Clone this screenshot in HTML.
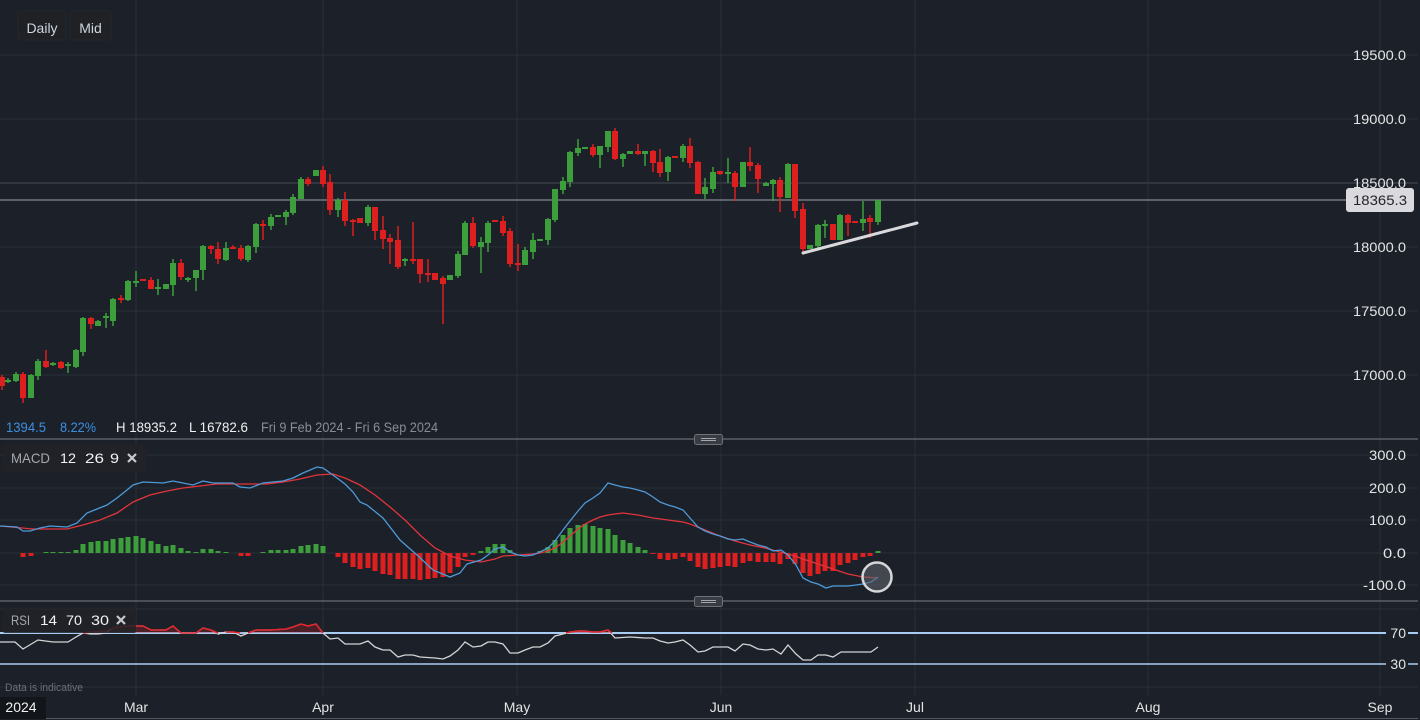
<!DOCTYPE html>
<html><head><meta charset="utf-8">
<style>
html,body{margin:0;padding:0;background:#1b2029;}
svg{display:block;font-family:"Liberation Sans",sans-serif;}
.g{fill:#3c9f3c}.r{fill:#dd1f1f}
.gl{stroke:#2a2f38;stroke-width:1}
.ax{fill:#e4e4e4;font-size:14px}
</style></head>
<body>
<svg width="1420" height="720" viewBox="0 0 1420 720" xmlns="http://www.w3.org/2000/svg">
<rect width="1420" height="720" fill="#1b2029"/>
<!-- vertical grid -->
<g class="gl">
<line x1="136" y1="0" x2="136" y2="695"/><line x1="323" y1="0" x2="323" y2="695"/><line x1="517" y1="0" x2="517" y2="695"/><line x1="721" y1="0" x2="721" y2="695"/><line x1="915" y1="0" x2="915" y2="695"/><line x1="1148" y1="0" x2="1148" y2="695"/><line x1="1380" y1="0" x2="1380" y2="695"/>
<!-- price grid -->
<line x1="0" y1="55" x2="1418" y2="55"/><line x1="0" y1="119" x2="1418" y2="119"/><line x1="0" y1="247" x2="1418" y2="247"/><line x1="0" y1="311" x2="1418" y2="311"/><line x1="0" y1="375" x2="1418" y2="375"/>
<!-- macd grid -->
<line x1="0" y1="455" x2="1418" y2="455"/><line x1="0" y1="488" x2="1418" y2="488"/><line x1="0" y1="520" x2="1418" y2="520"/><line x1="0" y1="553" x2="1418" y2="553"/><line x1="0" y1="585" x2="1418" y2="585"/>
<line x1="0" y1="609" x2="1418" y2="609"/><line x1="0" y1="687" x2="1418" y2="687"/>
</g>
<line x1="0" y1="183" x2="1418" y2="183" stroke="#30353e" stroke-width="2"/>
<line x1="0" y1="200" x2="1346" y2="200" stroke="#9ea1a7" stroke-width="1"/>

<!-- candles -->
<g>
<rect class="r" x="1.25" y="375" width="1.5" height="15"/><rect class="r" x="-1" y="377" width="6" height="9"/>
<rect class="g" x="7.25" y="378" width="1.5" height="5"/><rect class="g" x="5" y="380" width="6" height="2"/>
<rect class="g" x="15.25" y="372" width="1.5" height="10"/><rect class="g" x="13" y="374" width="6" height="7"/>
<rect class="r" x="22.25" y="372" width="1.5" height="31"/><rect class="r" x="20" y="374" width="6" height="24"/>
<rect class="g" x="30.25" y="374" width="1.5" height="24"/><rect class="g" x="28" y="375" width="6" height="23"/>
<rect class="g" x="37.25" y="359" width="1.5" height="21"/><rect class="g" x="35" y="361" width="6" height="15"/>
<rect class="r" x="45.25" y="350" width="1.5" height="18"/><rect class="r" x="43" y="361" width="6" height="6"/>
<rect class="g" x="52.25" y="362" width="1.5" height="4"/><rect class="g" x="50" y="363" width="6" height="2"/>
<rect class="r" x="60.25" y="361" width="1.5" height="8"/><rect class="r" x="58" y="362" width="6" height="6"/>
<rect class="g" x="67.25" y="362" width="1.5" height="11"/><rect class="g" x="65" y="364" width="6" height="2"/>
<rect class="g" x="75.25" y="349" width="1.5" height="19"/><rect class="g" x="73" y="350" width="6" height="17"/>
<rect class="g" x="82.25" y="317" width="1.5" height="39"/><rect class="g" x="80" y="318" width="6" height="34"/>
<rect class="r" x="90.25" y="317" width="1.5" height="12"/><rect class="r" x="88" y="318" width="6" height="6"/>
<rect class="g" x="97.25" y="320" width="1.5" height="6"/><rect class="g" x="95" y="321" width="6" height="5"/>
<rect class="g" x="105.25" y="313" width="1.5" height="15"/><rect class="g" x="103" y="316" width="6" height="2"/>
<rect class="g" x="112.25" y="298" width="1.5" height="28"/><rect class="g" x="110" y="299" width="6" height="22"/>
<rect class="r" x="120.25" y="295" width="1.5" height="8"/><rect class="r" x="118" y="298" width="6" height="2"/>
<rect class="g" x="127.25" y="280" width="1.5" height="21"/><rect class="g" x="125" y="281" width="6" height="19"/>
<rect class="g" x="135.25" y="271" width="1.5" height="16"/><rect class="g" x="133" y="281" width="6" height="2"/>
<rect class="r" x="142.25" y="279" width="1.5" height="2"/><rect class="r" x="140" y="279" width="6" height="2"/>
<rect class="r" x="150.25" y="277" width="1.5" height="12"/><rect class="r" x="148" y="280" width="6" height="9"/>
<rect class="g" x="157.25" y="279" width="1.5" height="16"/><rect class="g" x="155" y="287" width="6" height="2"/>
<rect class="g" x="165.25" y="284" width="1.5" height="5"/><rect class="g" x="163" y="284" width="6" height="5"/>
<rect class="g" x="172.25" y="259" width="1.5" height="37"/><rect class="g" x="170" y="263" width="6" height="22"/>
<rect class="r" x="180.25" y="259" width="1.5" height="21"/><rect class="r" x="178" y="263" width="6" height="14"/>
<rect class="g" x="187.25" y="277" width="1.5" height="5"/><rect class="g" x="185" y="278" width="6" height="2"/>
<rect class="g" x="195.25" y="270" width="1.5" height="21"/><rect class="g" x="193" y="270" width="6" height="8"/>
<rect class="g" x="202.25" y="245" width="1.5" height="35"/><rect class="g" x="200" y="246" width="6" height="24"/>
<rect class="r" x="210.25" y="245" width="1.5" height="9"/><rect class="r" x="208" y="246" width="6" height="3"/>
<rect class="r" x="217.25" y="242" width="1.5" height="22"/><rect class="r" x="215" y="249" width="6" height="10"/>
<rect class="g" x="225.25" y="242" width="1.5" height="19"/><rect class="g" x="223" y="248" width="6" height="12"/>
<rect class="r" x="232.25" y="245" width="1.5" height="4"/><rect class="r" x="230" y="247" width="6" height="2"/>
<rect class="r" x="240.25" y="245" width="1.5" height="16"/><rect class="r" x="238" y="248" width="6" height="11"/>
<rect class="g" x="247.25" y="245" width="1.5" height="17"/><rect class="g" x="245" y="246" width="6" height="14"/>
<rect class="g" x="255.25" y="223" width="1.5" height="30"/><rect class="g" x="253" y="224" width="6" height="23"/>
<rect class="r" x="262.25" y="220" width="1.5" height="20"/><rect class="r" x="260" y="224" width="6" height="2"/>
<rect class="g" x="270.25" y="214" width="1.5" height="16"/><rect class="g" x="268" y="217" width="6" height="9"/>
<rect class="g" x="277.25" y="215" width="1.5" height="2"/><rect class="g" x="275" y="215" width="6" height="2"/>
<rect class="g" x="285.25" y="210" width="1.5" height="15"/><rect class="g" x="283" y="212" width="6" height="5"/>
<rect class="g" x="292.25" y="194" width="1.5" height="21"/><rect class="g" x="290" y="197" width="6" height="16"/>
<rect class="g" x="300.25" y="177" width="1.5" height="22"/><rect class="g" x="298" y="179" width="6" height="20"/>
<rect class="r" x="307.25" y="177" width="1.5" height="9"/><rect class="r" x="305" y="179" width="6" height="5"/>
<rect class="g" x="315.25" y="170" width="1.5" height="6"/><rect class="g" x="313" y="170" width="6" height="6"/>
<rect class="r" x="322.25" y="166" width="1.5" height="21"/><rect class="r" x="320" y="170" width="6" height="14"/>
<rect class="r" x="329.25" y="174" width="1.5" height="41"/><rect class="r" x="327" y="182" width="6" height="28"/>
<rect class="g" x="337.25" y="198" width="1.5" height="19"/><rect class="g" x="335" y="200" width="6" height="10"/>
<rect class="r" x="344.25" y="192" width="1.5" height="34"/><rect class="r" x="342" y="200" width="6" height="21"/>
<rect class="r" x="352.25" y="219" width="1.5" height="17"/><rect class="r" x="350" y="220" width="6" height="2"/>
<rect class="r" x="359.25" y="218" width="1.5" height="5"/><rect class="r" x="357" y="218" width="6" height="5"/>
<rect class="g" x="367.25" y="205" width="1.5" height="21"/><rect class="g" x="365" y="207" width="6" height="16"/>
<rect class="r" x="374.25" y="207" width="1.5" height="33"/><rect class="r" x="372" y="207" width="6" height="24"/>
<rect class="r" x="382.25" y="216" width="1.5" height="33"/><rect class="r" x="380" y="230" width="6" height="9"/>
<rect class="r" x="389.25" y="234" width="1.5" height="30"/><rect class="r" x="387" y="238" width="6" height="4"/>
<rect class="r" x="397.25" y="226" width="1.5" height="43"/><rect class="r" x="395" y="240" width="6" height="27"/>
<rect class="g" x="404.25" y="258" width="1.5" height="8"/><rect class="g" x="402" y="259" width="6" height="2"/>
<rect class="r" x="412.25" y="222" width="1.5" height="42"/><rect class="r" x="410" y="259" width="6" height="2"/>
<rect class="r" x="419.25" y="259" width="1.5" height="24"/><rect class="r" x="417" y="259" width="6" height="15"/>
<rect class="r" x="427.25" y="259" width="1.5" height="23"/><rect class="r" x="425" y="273" width="6" height="2"/>
<rect class="r" x="434.25" y="273" width="1.5" height="7"/><rect class="r" x="432" y="273" width="6" height="7"/>
<rect class="r" x="442.25" y="276" width="1.5" height="48"/><rect class="r" x="440" y="278" width="6" height="6"/>
<rect class="g" x="449.25" y="275" width="1.5" height="5"/><rect class="g" x="447" y="275" width="6" height="5"/>
<rect class="g" x="457.25" y="251" width="1.5" height="27"/><rect class="g" x="455" y="254" width="6" height="22"/>
<rect class="g" x="464.25" y="221" width="1.5" height="34"/><rect class="g" x="462" y="223" width="6" height="32"/>
<rect class="r" x="472.25" y="217" width="1.5" height="31"/><rect class="r" x="470" y="223" width="6" height="23"/>
<rect class="g" x="480.25" y="237" width="1.5" height="36"/><rect class="g" x="478" y="242" width="6" height="5"/>
<rect class="g" x="487.25" y="221" width="1.5" height="31"/><rect class="g" x="485" y="223" width="6" height="20"/>
<rect class="r" x="494.25" y="220" width="1.5" height="2"/><rect class="r" x="492" y="220" width="6" height="2"/>
<rect class="r" x="502.25" y="216" width="1.5" height="20"/><rect class="r" x="500" y="221" width="6" height="12"/>
<rect class="r" x="509.25" y="228" width="1.5" height="39"/><rect class="r" x="507" y="231" width="6" height="33"/>
<rect class="r" x="517.25" y="244" width="1.5" height="27"/><rect class="r" x="515" y="263" width="6" height="2"/>
<rect class="g" x="524.25" y="247" width="1.5" height="18"/><rect class="g" x="522" y="250" width="6" height="15"/>
<rect class="g" x="532.25" y="233" width="1.5" height="26"/><rect class="g" x="530" y="240" width="6" height="12"/>
<rect class="g" x="539.25" y="239" width="1.5" height="2"/><rect class="g" x="537" y="239" width="6" height="2"/>
<rect class="g" x="547.25" y="218" width="1.5" height="27"/><rect class="g" x="545" y="219" width="6" height="21"/>
<rect class="g" x="554.25" y="189" width="1.5" height="33"/><rect class="g" x="552" y="189" width="6" height="31"/>
<rect class="g" x="562.25" y="177" width="1.5" height="17"/><rect class="g" x="560" y="181" width="6" height="9"/>
<rect class="g" x="569.25" y="151" width="1.5" height="36"/><rect class="g" x="567" y="152" width="6" height="30"/>
<rect class="g" x="577.25" y="139" width="1.5" height="17"/><rect class="g" x="575" y="148" width="6" height="5"/>
<rect class="g" x="584.25" y="147" width="1.5" height="2"/><rect class="g" x="582" y="147" width="6" height="2"/>
<rect class="r" x="592.25" y="144" width="1.5" height="13"/><rect class="r" x="590" y="147" width="6" height="8"/>
<rect class="g" x="599.25" y="146" width="1.5" height="22"/><rect class="g" x="597" y="146" width="6" height="9"/>
<rect class="g" x="607.25" y="131" width="1.5" height="21"/><rect class="g" x="605" y="131" width="6" height="16"/>
<rect class="r" x="614.25" y="128" width="1.5" height="32"/><rect class="r" x="612" y="131" width="6" height="28"/>
<rect class="g" x="622.25" y="153" width="1.5" height="14"/><rect class="g" x="620" y="154" width="6" height="5"/>
<rect class="g" x="629.25" y="151" width="1.5" height="3"/><rect class="g" x="627" y="151" width="6" height="3"/>
<rect class="r" x="637.25" y="144" width="1.5" height="11"/><rect class="r" x="635" y="151" width="6" height="3"/>
<rect class="g" x="644.25" y="151" width="1.5" height="15"/><rect class="g" x="642" y="151" width="6" height="3"/>
<rect class="r" x="652.25" y="150" width="1.5" height="22"/><rect class="r" x="650" y="151" width="6" height="12"/>
<rect class="r" x="659.25" y="149" width="1.5" height="28"/><rect class="r" x="657" y="162" width="6" height="11"/>
<rect class="g" x="667.25" y="156" width="1.5" height="25"/><rect class="g" x="665" y="157" width="6" height="15"/>
<rect class="r" x="674.25" y="156" width="1.5" height="2"/><rect class="r" x="672" y="156" width="6" height="2"/>
<rect class="g" x="682.25" y="144" width="1.5" height="18"/><rect class="g" x="680" y="146" width="6" height="12"/>
<rect class="r" x="689.25" y="138" width="1.5" height="30"/><rect class="r" x="687" y="146" width="6" height="17"/>
<rect class="r" x="697.25" y="161" width="1.5" height="33"/><rect class="r" x="695" y="162" width="6" height="32"/>
<rect class="g" x="704.25" y="178" width="1.5" height="21"/><rect class="g" x="702" y="187" width="6" height="7"/>
<rect class="g" x="712.25" y="167" width="1.5" height="26"/><rect class="g" x="710" y="172" width="6" height="17"/>
<rect class="r" x="719.25" y="171" width="1.5" height="4"/><rect class="r" x="717" y="171" width="6" height="3"/>
<rect class="g" x="727.25" y="158" width="1.5" height="25"/><rect class="g" x="725" y="172" width="6" height="2"/>
<rect class="r" x="734.25" y="171" width="1.5" height="30"/><rect class="r" x="732" y="173" width="6" height="14"/>
<rect class="g" x="742.25" y="162" width="1.5" height="25"/><rect class="g" x="740" y="162" width="6" height="25"/>
<rect class="r" x="749.25" y="147" width="1.5" height="24"/><rect class="r" x="747" y="162" width="6" height="4"/>
<rect class="r" x="757.25" y="163" width="1.5" height="30"/><rect class="r" x="755" y="165" width="6" height="14"/>
<rect class="g" x="765.25" y="182" width="1.5" height="4"/><rect class="g" x="763" y="183" width="6" height="3"/>
<rect class="g" x="772.25" y="179" width="1.5" height="22"/><rect class="g" x="770" y="180" width="6" height="4"/>
<rect class="r" x="779.25" y="177" width="1.5" height="35"/><rect class="r" x="777" y="180" width="6" height="17"/>
<rect class="g" x="787.25" y="163" width="1.5" height="35"/><rect class="g" x="785" y="164" width="6" height="34"/>
<rect class="r" x="794.25" y="164" width="1.5" height="54"/><rect class="r" x="792" y="164" width="6" height="47"/>
<rect class="r" x="802.25" y="203" width="1.5" height="51"/><rect class="r" x="800" y="209" width="6" height="40"/>
<rect class="g" x="809.25" y="245" width="1.5" height="4"/><rect class="g" x="807" y="245" width="6" height="4"/>
<rect class="g" x="817.25" y="224" width="1.5" height="26"/><rect class="g" x="815" y="225" width="6" height="21"/>
<rect class="g" x="824.25" y="220" width="1.5" height="18"/><rect class="g" x="822" y="224" width="6" height="2"/>
<rect class="r" x="832.25" y="224" width="1.5" height="16"/><rect class="r" x="830" y="224" width="6" height="16"/>
<rect class="g" x="839.25" y="214" width="1.5" height="26"/><rect class="g" x="837" y="215" width="6" height="25"/>
<rect class="r" x="847.25" y="214" width="1.5" height="22"/><rect class="r" x="845" y="215" width="6" height="8"/>
<rect class="r" x="854.25" y="221" width="1.5" height="2"/><rect class="r" x="852" y="221" width="6" height="2"/>
<rect class="g" x="862.25" y="201" width="1.5" height="30"/><rect class="g" x="860" y="219" width="6" height="4"/>
<rect class="r" x="869.25" y="215" width="1.5" height="23"/><rect class="r" x="867" y="218" width="6" height="4"/>
<rect class="g" x="877.25" y="200" width="1.5" height="25"/><rect class="g" x="875" y="200" width="6" height="22"/>
</g>
<!-- trend line -->
<line x1="803" y1="253" x2="917" y2="223" stroke="#d9d9db" stroke-width="3" stroke-linecap="round"/>

<!-- info line -->
<text x="6" y="432" font-size="14" fill="#3d8fe0" textLength="40" lengthAdjust="spacingAndGlyphs">1394.5</text>
<text x="60" y="432" font-size="14" fill="#3d8fe0" textLength="36" lengthAdjust="spacingAndGlyphs">8.22%</text>
<text x="116" y="432" font-size="14" fill="#f0f0f0" textLength="61" lengthAdjust="spacingAndGlyphs">H 18935.2</text>
<text x="189" y="432" font-size="14" fill="#f0f0f0" textLength="59" lengthAdjust="spacingAndGlyphs">L 16782.6</text>
<text x="261" y="432" font-size="14" fill="#878c95" textLength="177" lengthAdjust="spacingAndGlyphs">Fri 9 Feb 2024 - Fri 6 Sep 2024</text>

<!-- panel dividers -->
<line x1="0" y1="439" x2="1418" y2="439" stroke="#5c5f66" stroke-width="1.5"/>
<line x1="0" y1="601" x2="1418" y2="601" stroke="#5c5f66" stroke-width="1.5"/>

<!-- MACD histogram -->
<g>
<rect class="r" x="20.5" y="553" width="5" height="4"/><rect class="r" x="28.5" y="553" width="5" height="3"/>
<rect class="g" x="43.5" y="552" width="5" height="1"/><rect class="g" x="50.5" y="552" width="5" height="1"/><rect class="g" x="58.5" y="552" width="5" height="1"/><rect class="g" x="65.5" y="552" width="5" height="1"/>
<rect class="g" x="73.5" y="550" width="5" height="3"/><rect class="g" x="80.5" y="544" width="5" height="9"/><rect class="g" x="88.5" y="542" width="5" height="11"/><rect class="g" x="95.5" y="541" width="5" height="12"/><rect class="g" x="103.5" y="541" width="5" height="12"/><rect class="g" x="110.5" y="539" width="5" height="14"/><rect class="g" x="118.5" y="538" width="5" height="15"/><rect class="g" x="125.5" y="537" width="5" height="16"/><rect class="g" x="133.5" y="536" width="5" height="17"/><rect class="g" x="140.5" y="538" width="5" height="15"/><rect class="g" x="148.5" y="541" width="5" height="12"/><rect class="g" x="155.5" y="544" width="5" height="9"/><rect class="g" x="163.5" y="546" width="5" height="7"/><rect class="g" x="170.5" y="545" width="5" height="8"/><rect class="g" x="178.5" y="548" width="5" height="5"/><rect class="g" x="185.5" y="551" width="5" height="2"/><rect class="g" x="193.5" y="552" width="5" height="1"/><rect class="g" x="200.5" y="549" width="5" height="4"/><rect class="g" x="208.5" y="549" width="5" height="4"/><rect class="g" x="215.5" y="551" width="5" height="2"/><rect class="g" x="223.5" y="552" width="5" height="1"/>
<rect class="r" x="238.5" y="553" width="5" height="3"/><rect class="r" x="245.5" y="553" width="5" height="3"/>
<rect class="g" x="260.5" y="552" width="5" height="1"/><rect class="g" x="268.5" y="550" width="5" height="3"/><rect class="g" x="275.5" y="550" width="5" height="3"/><rect class="g" x="283.5" y="550" width="5" height="3"/><rect class="g" x="290.5" y="549" width="5" height="4"/><rect class="g" x="298.5" y="546" width="5" height="7"/><rect class="g" x="305.5" y="545" width="5" height="8"/><rect class="g" x="313.5" y="544" width="5" height="9"/><rect class="g" x="320.5" y="546" width="5" height="7"/>
<rect class="r" x="335.5" y="553" width="5" height="4"/><rect class="r" x="342.5" y="553" width="5" height="10"/><rect class="r" x="350.5" y="553" width="5" height="14"/><rect class="r" x="357.5" y="553" width="5" height="16"/><rect class="r" x="365.5" y="553" width="5" height="15"/><rect class="r" x="372.5" y="553" width="5" height="18"/><rect class="r" x="380.5" y="553" width="5" height="21"/><rect class="r" x="387.5" y="553" width="5" height="22"/><rect class="r" x="395.5" y="553" width="5" height="26"/><rect class="r" x="402.5" y="553" width="5" height="26"/><rect class="r" x="410.5" y="553" width="5" height="26"/><rect class="r" x="417.5" y="553" width="5" height="27"/><rect class="r" x="425.5" y="553" width="5" height="26"/><rect class="r" x="432.5" y="553" width="5" height="25"/><rect class="r" x="440.5" y="553" width="5" height="24"/><rect class="r" x="447.5" y="553" width="5" height="20"/><rect class="r" x="455.5" y="553" width="5" height="14"/><rect class="r" x="462.5" y="553" width="5" height="4"/><rect class="r" x="470.5" y="553" width="5" height="2"/>
<rect class="g" x="478.5" y="551" width="5" height="2"/><rect class="g" x="485.5" y="547" width="5" height="6"/><rect class="g" x="492.5" y="544" width="5" height="9"/><rect class="g" x="500.5" y="544" width="5" height="9"/><rect class="g" x="507.5" y="550" width="5" height="3"/>
<rect class="g" x="537.5" y="551" width="5" height="2"/><rect class="g" x="545.5" y="547" width="5" height="6"/><rect class="g" x="552.5" y="540" width="5" height="13"/><rect class="g" x="560.5" y="535" width="5" height="18"/><rect class="g" x="567.5" y="528" width="5" height="25"/><rect class="g" x="575.5" y="525" width="5" height="28"/><rect class="g" x="582.5" y="524" width="5" height="29"/><rect class="g" x="590.5" y="526" width="5" height="27"/><rect class="g" x="597.5" y="528" width="5" height="25"/><rect class="g" x="605.5" y="529" width="5" height="24"/><rect class="g" x="612.5" y="535" width="5" height="18"/><rect class="g" x="620.5" y="540" width="5" height="13"/><rect class="g" x="627.5" y="543" width="5" height="10"/><rect class="g" x="635.5" y="547" width="5" height="6"/><rect class="g" x="642.5" y="550" width="5" height="3"/>
<rect class="r" x="650.5" y="553" width="5" height="1"/><rect class="r" x="657.5" y="553" width="5" height="6"/><rect class="r" x="665.5" y="553" width="5" height="7"/><rect class="r" x="672.5" y="553" width="5" height="6"/><rect class="r" x="680.5" y="553" width="5" height="4"/><rect class="r" x="687.5" y="553" width="5" height="8"/><rect class="r" x="695.5" y="553" width="5" height="14"/><rect class="r" x="702.5" y="553" width="5" height="16"/><rect class="r" x="710.5" y="553" width="5" height="15"/><rect class="r" x="717.5" y="553" width="5" height="14"/><rect class="r" x="725.5" y="553" width="5" height="13"/><rect class="r" x="732.5" y="553" width="5" height="14"/><rect class="r" x="740.5" y="553" width="5" height="10"/><rect class="r" x="747.5" y="553" width="5" height="8"/><rect class="r" x="755.5" y="553" width="5" height="9"/><rect class="r" x="763.5" y="553" width="5" height="9"/><rect class="r" x="770.5" y="553" width="5" height="9"/><rect class="r" x="777.5" y="553" width="5" height="11"/><rect class="r" x="785.5" y="553" width="5" height="6"/><rect class="r" x="792.5" y="553" width="5" height="11"/><rect class="r" x="800.5" y="553" width="5" height="20"/><rect class="r" x="807.5" y="553" width="5" height="23"/><rect class="r" x="815.5" y="553" width="5" height="21"/><rect class="r" x="822.5" y="553" width="5" height="18"/><rect class="r" x="830.5" y="553" width="5" height="18"/><rect class="r" x="837.5" y="553" width="5" height="12"/><rect class="r" x="845.5" y="553" width="5" height="10"/><rect class="r" x="852.5" y="553" width="5" height="7"/><rect class="r" x="860.5" y="553" width="5" height="4"/><rect class="r" x="867.5" y="553" width="5" height="3"/>
<rect class="g" x="875.5" y="551" width="5" height="2"/>
</g>
<!-- MACD lines -->
<polyline fill="none" stroke="#e3343b" stroke-width="1.3" points="0,526 33,529 67,529 83,525 100,520 117,513 133,502 150,495 167,491 183,488 200,486 217,484 250,484 267,484 283,482 300,479 317,475 333,474 345,478 360,485 375,495 390,507 405,520 420,535 435,548 450,556 465,560 481,562 495,559 503,556 518,555 533,554 540,553 548,551 555,548 563,542 570,536 578,529 585,524 593,520 600,517 608,515 615,514 623,513 638,515 653,518 668,520 683,522 690,524 705,530 720,536 735,541 750,545 765,548 780,552 795,556 803,559 818,564 833,569 848,574 863,577 878,578"/>
<polyline fill="none" stroke="#4f9ad8" stroke-width="1.3" points="0,526 17,527 23,531 30,531 40,528 50,526 67,527 77,523 87,513 97,509 107,505 117,498 127,490 133,485 143,482 163,483 173,481 193,485 203,481 213,483 233,483 240,487 250,488 263,483 283,481 293,478 303,473 317,467 323,468 337,478 345,484 353,492 360,502 367,505 383,518 400,540 417,555 433,570 450,577 460,573 467,564 481,560 488,555 495,549 503,547 510,552 518,555 525,556 533,555 540,552 548,548 555,541 563,530 570,521 578,511 585,503 593,498 600,493 608,483 615,485 623,487 630,488 638,490 645,492 653,497 660,502 668,505 675,507 683,510 690,518 698,527 705,531 713,534 720,536 728,539 735,540 743,539 750,542 758,545 766,547 773,551 781,550 788,555 796,565 803,578 811,582 818,584 826,588 833,586 841,586 848,586 856,585 863,584 871,582 878,577"/>
<circle cx="877" cy="577" r="14.5" fill="rgba(95,98,106,0.6)" stroke="#d6d6d8" stroke-width="2.5"/>

<!-- RSI -->
<line x1="0" y1="633" x2="1418" y2="633" stroke="#a9cdf2" stroke-width="2"/>
<line x1="0" y1="664" x2="1418" y2="664" stroke="#a9cdf2" stroke-width="1.5"/>
<polygon fill="rgba(170,30,35,0.35)" points="83,633 91,632 106,631 113,628 128,626 143,626 151,630 166,630 173,626 181,633 196,633 203,628 211,630 218,633 233,632 248,633 256,630 271,630 286,629 293,627 301,624 308,626 316,624 323,633"/>
<polygon fill="rgba(170,30,35,0.35)" points="566,633 570,632 578,631 585,631 593,632 600,632 608,630 612,633"/>
<polyline fill="none" stroke="#d4d4d6" stroke-width="1.3" points="0,642 15,642 23,649 38,640 53,642 68,642 76,637 83,633 91,634 98,634 106,633 113,628 128,626 143,626 151,630 166,630 173,626 181,633 196,633 203,628 211,630 218,634 226,632 233,632 241,636 248,633 256,630 271,630 286,629 293,627 301,624 308,626 316,624 323,633 330,639 338,638 345,644 360,644 368,641 375,647 383,650 390,650 398,657 405,655 413,655 420,657 435,658 443,659 450,656 458,650 465,642 473,647 481,646 488,642 495,642 503,644 510,653 518,653 525,650 533,647 540,647 548,643 555,636 563,634 570,632 578,631 585,631 593,632 600,632 608,630 615,638 630,637 645,638 653,638 660,641 668,643 675,642 683,640 690,645 698,652 705,651 713,647 728,647 735,651 743,644 750,645 758,649 766,650 773,649 781,654 788,645 796,654 803,660 811,660 818,655 826,655 833,657 841,652 848,652 856,652 863,652 871,652 878,647"/>
<polyline fill="none" stroke="#e0252b" stroke-width="1.5" points="83,633 91,632 106,631 113,628 128,626 143,626 151,630 166,630 173,626 181,633 196,633 203,628 211,630 218,633"/>
<polyline fill="none" stroke="#e0252b" stroke-width="1.5" points="226,632 233,632 240,633"/>
<polyline fill="none" stroke="#e0252b" stroke-width="1.5" points="248,633 256,630 271,630 286,629 293,627 301,624 308,626 316,624 323,633"/>
<polyline fill="none" stroke="#e0252b" stroke-width="1.5" points="566,633 570,632 578,631 585,631 593,632 600,632 608,630 612,633"/>

<!-- handles -->
<g>
<rect x="694.5" y="434.5" width="28" height="10" rx="2" fill="#3a3c43" stroke="#6e7178"/>
<line x1="701" y1="438.5" x2="716" y2="438.5" stroke="#a3a6ab"/><line x1="701" y1="440.5" x2="716" y2="440.5" stroke="#a3a6ab"/>
<rect x="694.5" y="596.5" width="28" height="10" rx="2" fill="#3a3c43" stroke="#6e7178"/>
<line x1="701" y1="600.5" x2="716" y2="600.5" stroke="#a3a6ab"/><line x1="701" y1="602.5" x2="716" y2="602.5" stroke="#a3a6ab"/>
</g>

<!-- label boxes -->
<rect x="3" y="445" width="144" height="27" rx="2" fill="rgba(33,35,40,0.92)"/>
<text x="11" y="463" font-size="14" fill="#a4a8ae" textLength="39" lengthAdjust="spacingAndGlyphs">MACD</text>
<text x="60" y="463" font-size="14" fill="#f2f2f2" textLength="16" lengthAdjust="spacingAndGlyphs">12</text>
<text x="85" y="463" font-size="14" fill="#f2f2f2" textLength="19" lengthAdjust="spacingAndGlyphs">26</text>
<text x="110" y="463" font-size="14" fill="#f2f2f2" textLength="9" lengthAdjust="spacingAndGlyphs">9</text>
<path d="M128 454 L136 462 M136 454 L128 462" stroke="#c9c9cc" stroke-width="2.2"/>
<rect x="3" y="607" width="133" height="26" rx="2" fill="rgba(33,35,40,0.85)"/>
<text x="11" y="625" font-size="14" fill="#a4a8ae" textLength="19" lengthAdjust="spacingAndGlyphs">RSI</text>
<text x="40" y="625" font-size="14" fill="#f2f2f2" textLength="17" lengthAdjust="spacingAndGlyphs">14</text>
<text x="66" y="625" font-size="14" fill="#f2f2f2" textLength="16" lengthAdjust="spacingAndGlyphs">70</text>
<text x="91" y="625" font-size="14" fill="#f2f2f2" textLength="18" lengthAdjust="spacingAndGlyphs">30</text>
<path d="M117 616 L125 624 M125 616 L117 624" stroke="#c9c9cc" stroke-width="2.2"/>

<!-- top buttons -->
<rect x="18" y="11" width="48" height="29" rx="2" fill="#1f2125" stroke="#23262b"/>
<rect x="70" y="11" width="41" height="29" rx="2" fill="#1f2125" stroke="#23262b"/>
<text x="42" y="33" font-size="14" fill="#cdd5df" text-anchor="middle">Daily</text>
<text x="90.5" y="33" font-size="14" fill="#cdd5df" text-anchor="middle">Mid</text>

<!-- right axis -->
<g class="ax" text-anchor="end">
<text x="1406" y="60" textLength="53" lengthAdjust="spacingAndGlyphs">19500.0</text>
<text x="1406" y="124" textLength="53" lengthAdjust="spacingAndGlyphs">19000.0</text>
<text x="1406" y="188" textLength="53" lengthAdjust="spacingAndGlyphs">18500.0</text>
<text x="1406" y="252" textLength="53" lengthAdjust="spacingAndGlyphs">18000.0</text>
<text x="1406" y="316" textLength="53" lengthAdjust="spacingAndGlyphs">17500.0</text>
<text x="1406" y="380" textLength="53" lengthAdjust="spacingAndGlyphs">17000.0</text>
<text x="1406" y="460" textLength="37" lengthAdjust="spacingAndGlyphs">300.0</text>
<text x="1406" y="493" textLength="37" lengthAdjust="spacingAndGlyphs">200.0</text>
<text x="1406" y="525" textLength="37" lengthAdjust="spacingAndGlyphs">100.0</text>
<text x="1406" y="558" textLength="23" lengthAdjust="spacingAndGlyphs">0.0</text>
<text x="1406" y="590" textLength="43" lengthAdjust="spacingAndGlyphs">-100.0</text>
</g>
<rect x="1386" y="626" width="22" height="14" fill="#1b2029"/>
<rect x="1386" y="657" width="22" height="14" fill="#1b2029"/>
<text class="ax" x="1406" y="638" text-anchor="end">70</text>
<text class="ax" x="1406" y="669" text-anchor="end">30</text>
<rect x="1346" y="188" width="68" height="24" rx="3" fill="#d9d9de"/>
<text x="1380" y="205" font-size="14" fill="#222428" text-anchor="middle" textLength="54" lengthAdjust="spacingAndGlyphs">18365.3</text>

<!-- footer -->
<text x="5" y="691" font-size="11" fill="#6b7078" textLength="78" lengthAdjust="spacingAndGlyphs">Data is indicative</text>
<line x1="0" y1="718.5" x2="1418" y2="718.5" stroke="#55585e"/>
<rect x="0" y="697" width="46" height="22" fill="#121519"/>
<g class="ax" text-anchor="middle">
<text x="21" y="712" fill="#f2f2f2">2024</text>
<text x="136" y="712">Mar</text>
<text x="323" y="712">Apr</text>
<text x="517" y="712">May</text>
<text x="721" y="712">Jun</text>
<text x="915" y="712">Jul</text>
<text x="1148" y="712">Aug</text>
<text x="1380" y="712">Sep</text>
</g>
</svg>
</body></html>
